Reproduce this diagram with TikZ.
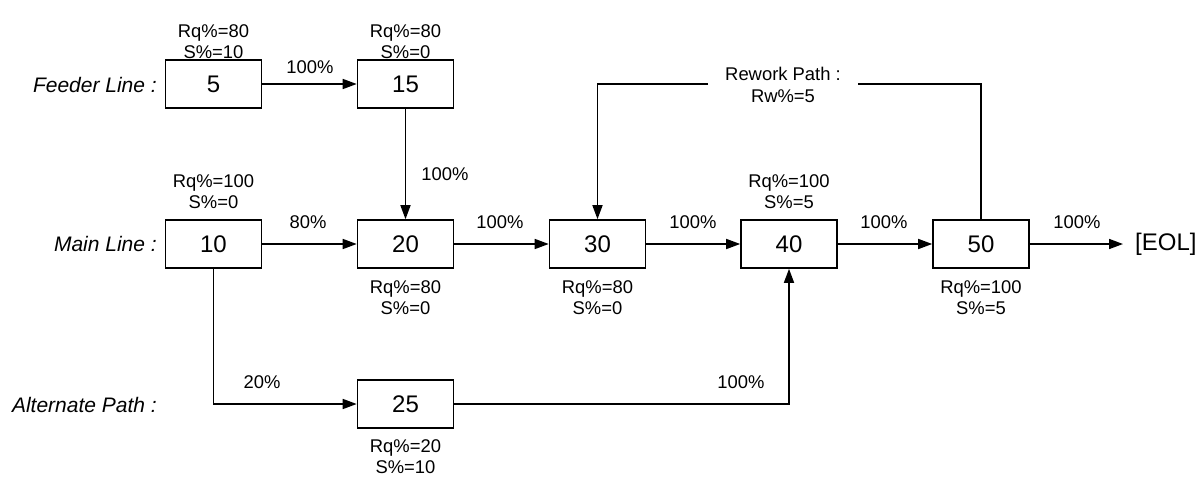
\documentclass[tikz,border=0pt]{standalone}
\usepackage{fontspec}
\setmainfont{Liberation Sans}
\usetikzlibrary{arrows.meta}
\begin{document}
\begin{tikzpicture}[x=1pt,y=-1pt,
  box/.style={draw,line width=1.6pt,minimum width=96pt,minimum height=48pt,inner sep=0pt,font=\fontsize{24}{27}\selectfont},
  lbl/.style={font=\fontsize{18.4}{21.5}\selectfont,align=center,inner sep=0pt},
  linelbl/.style={font=\fontsize{21}{24}\selectfont\itshape,anchor=east,inner sep=0pt},
  conn/.style={line width=1.6pt},
  arr/.style={conn,-{Triangle[length=14pt,width=10pt]}}]
\useasboundingbox (0,0) rectangle (1201,477);
% line labels
\node[linelbl] (lf) at (157,85) {Feeder Line :};
\node[linelbl] (lm) at (157,244) {Main Line :};
\node[linelbl] (la) at (157,405) {Alternate Path :};
% boxes
\node[box] (b5) at (213.5,84) {5};
\node[box] (b15) at (405.5,84) {15};
\node[box] (b10) at (213.5,244) {10};
\node[box] (b20) at (405.5,244) {20};
\node[box] (b30) at (597.5,244) {30};
\node[box] (b40) at (789,244) {40};
\node[box] (b50) at (981,244) {50};
\node[box] (b25) at (405.5,404) {25};
\node[anchor=west,inner xsep=12pt,inner ysep=0pt,font=\fontsize{24}{27}\selectfont] (eol) at (1123,244) {[EOL]};
% box data labels
\node[lbl] (d5) at (213.5,41.5) {Rq\%=80\\S\%=10};
\node[lbl] (d15) at (405.5,41.5) {Rq\%=80\\S\%=0};
\node[lbl] (d10) at (213.5,191.5) {Rq\%=100\\S\%=0};
\node[lbl] (d40) at (789,191.5) {Rq\%=100\\S\%=5};
\node[lbl] (d20) at (405.5,297.5) {Rq\%=80\\S\%=0};
\node[lbl] (d30) at (597.5,297.5) {Rq\%=80\\S\%=0};
\node[lbl] (d50) at (981,297.5) {Rq\%=100\\S\%=5};
\node[lbl] (d25) at (405.5,456.5) {Rq\%=20\\S\%=10};
% rework label
\node[lbl] (rw) at (783,85) {Rework Path :\\Rw\%=5};
\coordinate (rwL) at (708,84);
\coordinate (rwR) at (858,84);
% percent labels
\node[lbl] (p1) at (310,67) {100\%};
\node[lbl] (p2) at (445,174) {100\%};
\node[lbl] (p3) at (308,222) {80\%};
\node[lbl] (p4) at (500,222) {100\%};
\node[lbl] (p5) at (693,222) {100\%};
\node[lbl] (p6) at (884,222) {100\%};
\node[lbl] (p7) at (1077,222) {100\%};
\node[lbl] (p8) at (262,382) {20\%};
\node[lbl] (p9) at (741,382) {100\%};
% connectors
\draw[arr] (b5) -- (b15);
\draw[arr] (b15) -- (b20);
\draw[arr] (b10) -- (b20);
\draw[arr] (b20) -- (b30);
\draw[arr] (b30) -- (b40);
\draw[arr] (b40) -- (b50);
\draw[arr] (b50) -- (eol.west);
\draw[arr] (b10.south) |- (b25.west);
\draw[arr] (b25.east) -| (b40.south);
\draw[conn] (b50.north) |- (rwR);
\draw[arr] (rwL) -| (b30.north);
\end{tikzpicture}
\end{document}
